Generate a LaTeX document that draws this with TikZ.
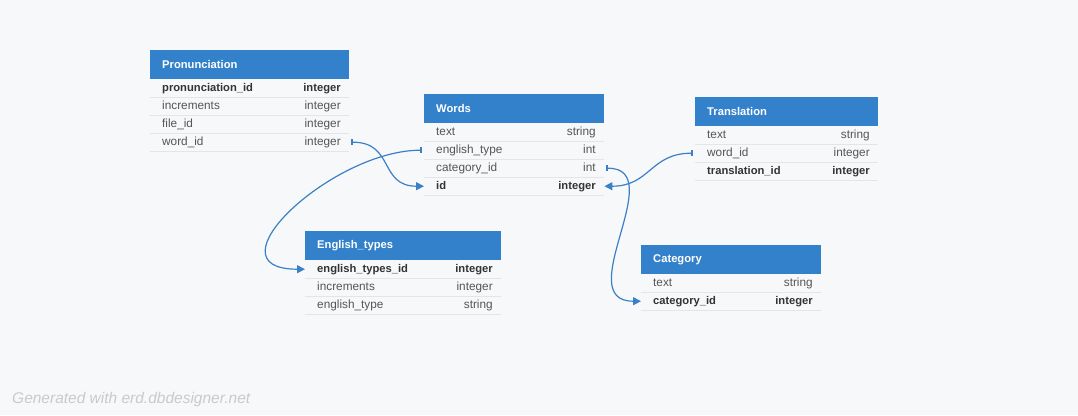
\documentclass[tikz,border=0pt]{standalone}
\usepackage{fontspec}
\setmainfont{Liberation Sans}
\usetikzlibrary{arrows.meta}
\definecolor{erdblue}{HTML}{3481CB}
\definecolor{pagebg}{HTML}{F7F8FA}
\definecolor{rowline}{HTML}{E4E5EA}
\definecolor{fieldgray}{HTML}{555555}
\definecolor{keygray}{HTML}{333333}
\definecolor{footgray}{HTML}{C9CACE}
\definecolor{linkblue}{HTML}{3A80C6}

\begin{document}
\begin{tikzpicture}[x=1pt,y=-1pt,
  tablehead/.style={fill=erdblue,text=white,font=\fontsize{11.2}{13}\bfseries\selectfont,
    anchor=north west,minimum height=29pt,inner xsep=12pt,inner ysep=0pt,align=left},
  rowbox/.style={anchor=north west,minimum height=18pt,inner sep=0pt},
  rowrule/.style={rowline,line width=0.8pt},
  field/.style={text=fieldgray,font=\fontsize{11.8}{13}\selectfont,inner sep=0pt,
    text height=8.5pt,text depth=2.5pt},
  keyfield/.style={text=keygray,font=\fontsize{11.2}{13}\bfseries\selectfont,inner sep=0pt,
    text height=8.5pt,text depth=2.5pt},
  link/.style={linkblue,line width=1.2pt,shorten <=2pt,
    {Bar[width=6pt,line width=2pt]}-{Triangle[length=8pt,width=8pt]}}]
\useasboundingbox[fill=pagebg] (0,0) rectangle (1078,415);

% Pronunciation
\node[tablehead,text width=175pt] (pron) at (150,50) {Pronunciation};
\foreach \f/\t/\s [count=\i] in {pronunciation\_id/integer/keyfield,increments/integer/field,
    file\_id/integer/field,word\_id/integer/field} {
  \node[rowbox,minimum width=199pt] (pron-\i) at ({150},{79+18*(\i-1)}) {};
  \draw[rowrule] (pron-\i.south west) -- (pron-\i.south east);
  \node[\s,anchor=west] (pron-\i-name) at ([xshift=12pt]pron-\i.west) {\f};
  \node[\s,anchor=east] (pron-\i-type) at ([xshift=-8.5pt]pron-\i.east) {\t};
}

% Words
\node[tablehead,text width=156pt] (words) at (424,94) {Words};
\foreach \f/\t/\s [count=\i] in {text/string/field,english\_type/int/field,
    category\_id/int/field,id/integer/keyfield} {
  \node[rowbox,minimum width=180pt] (words-\i) at ({424},{123+18*(\i-1)}) {};
  \draw[rowrule] (words-\i.south west) -- (words-\i.south east);
  \node[\s,anchor=west] (words-\i-name) at ([xshift=12pt]words-\i.west) {\f};
  \node[\s,anchor=east] (words-\i-type) at ([xshift=-8.5pt]words-\i.east) {\t};
}

% Translation
\node[tablehead,text width=159pt] (trans) at (695,97) {Translation};
\foreach \f/\t/\s [count=\i] in {text/string/field,word\_id/integer/field,
    translation\_id/integer/keyfield} {
  \node[rowbox,minimum width=183pt] (trans-\i) at ({695},{126+18*(\i-1)}) {};
  \draw[rowrule] (trans-\i.south west) -- (trans-\i.south east);
  \node[\s,anchor=west] (trans-\i-name) at ([xshift=12pt]trans-\i.west) {\f};
  \node[\s,anchor=east] (trans-\i-type) at ([xshift=-8.5pt]trans-\i.east) {\t};
}

% English_types
\node[tablehead,text width=172pt] (eng) at (305,231) {English\_types};
\foreach \f/\t/\s [count=\i] in {english\_types\_id/integer/keyfield,increments/integer/field,
    english\_type/string/field} {
  \node[rowbox,minimum width=196pt] (eng-\i) at ({305},{260+18*(\i-1)}) {};
  \draw[rowrule] (eng-\i.south west) -- (eng-\i.south east);
  \node[\s,anchor=west] (eng-\i-name) at ([xshift=12pt]eng-\i.west) {\f};
  \node[\s,anchor=east] (eng-\i-type) at ([xshift=-8.5pt]eng-\i.east) {\t};
}

% Category
\node[tablehead,text width=156pt] (cat) at (641,245) {Category};
\foreach \f/\t/\s [count=\i] in {text/string/field,category\_id/integer/keyfield} {
  \node[rowbox,minimum width=180pt] (cat-\i) at ({641},{274+18*(\i-1)}) {};
  \draw[rowrule] (cat-\i.south west) -- (cat-\i.south east);
  \node[\s,anchor=west] (cat-\i-name) at ([xshift=12pt]cat-\i.west) {\f};
  \node[\s,anchor=east] (cat-\i-type) at ([xshift=-8.5pt]cat-\i.east) {\t};
}

% references
\draw[link] (pron-4.east) .. controls +(45,0) and +(-45,0) .. (words-4.west);
\draw[link] (words-2.west) .. controls +(-92,0) and +(-100,0) .. (eng-1.west);
\draw[link] (words-3.east) .. controls +(66,0) and +(-71,0) .. (cat-2.west);
\draw[link] (trans-2.west) .. controls +(-45,0) and +(46,0) .. (words-4.east);

\node[text=footgray,font=\fontsize{15.5}{18}\itshape\selectfont,anchor=west,inner sep=0pt]
  (credit) at (12,399) {Generated with erd.dbdesigner.net};
\end{tikzpicture}
\end{document}
